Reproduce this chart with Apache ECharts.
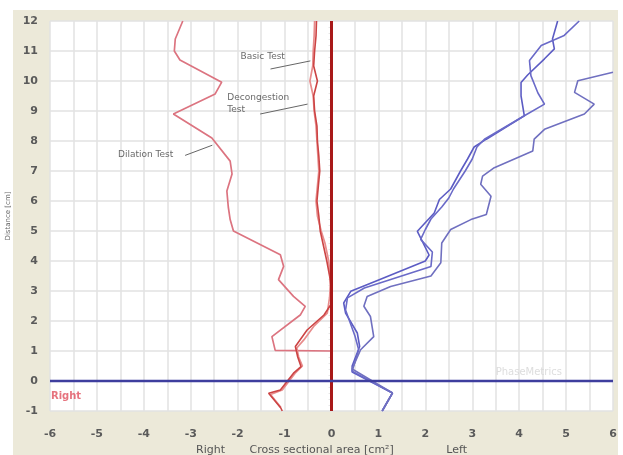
<!DOCTYPE html>
<html>
<head>
<meta charset="utf-8">
<script src="https://cdn.jsdelivr.net/npm/echarts@6/dist/echarts.min.js"></script>
<style>html,body{margin:0;padding:0;background:#fff;}#c{width:623px;height:455px;}</style>
</head>
<body>
<div id="c"></div>
<script>
// ---- data (x = cross sectional area [cm²], y = distance [cm]) ----
const xTicks = [-6,-5,-4,-3,-2,-1,0,1,2,3,4,5,6];
const yTicks = [-1,0,1,2,3,4,5,6,7,8,9,10,11,12];

const dilationTest = [[-3.17,12],[-3.33,11.4],[-3.35,11.0],[-3.23,10.7],[-2.34,9.96],[-2.48,9.57],[-3.37,8.9],[-2.55,8.1],[-2.16,7.33],[-2.12,6.9],[-2.23,6.33],[-2.2,5.8],[-2.16,5.38],[-2.09,5.0],[-1.09,4.21],[-1.02,3.82],[-1.13,3.38],[-0.81,2.82],[-0.56,2.49],[-0.66,2.21],[-1.27,1.48],[-1.2,1.02],[0,1.0]];
const basicTest = [[-0.32,12],[-0.33,11.5],[-0.36,11],[-0.38,10.5],[-0.30,10],[-0.38,9.5],[-0.36,9],[-0.31,8.5],[-0.3,8],[-0.27,7.5],[-0.25,7],[-0.28,6.5],[-0.31,6],[-0.27,5.5],[-0.24,5],[-0.17,4.5],[-0.1,4],[-0.04,3.5],[0,3],[0.01,2.6],[-0.16,2.2],[-0.52,1.7],[-0.77,1.15],[-0.72,0.8],[-0.65,0.48],[-0.81,0.26],[-1.09,-0.3],[-1.34,-0.41],[-1.08,-0.9],[-1.05,-1.0]];
const decongestionTest = [[-0.36,12],[-0.37,11.5],[-0.39,11],[-0.40,10.5],[-0.46,10],[-0.39,9.5],[-0.37,9],[-0.33,8.5],[-0.31,8],[-0.29,7.5],[-0.27,7],[-0.3,6.5],[-0.33,6],[-0.3,5.5],[-0.22,5],[-0.14,4.6],[-0.06,4],[-0.02,3.4],[-0.04,2.8],[-0.09,2.26],[-0.38,1.82],[-0.59,1.37],[-0.74,1.1],[-0.7,0.8],[-0.62,0.5],[-0.78,0.25],[-1.05,-0.3],[-1.3,-0.45],[-1.08,-0.88]];

const leftA = [[1.08,-1.0],[1.30,-0.4],[0.44,0.3],[0.44,0.5],[0.60,1.15],[0.55,1.6],[0.30,2.26],[0.26,2.6],[0.41,2.99],[0.9,3.3],[2.0,4.0],[2.08,4.2],[1.83,4.99],[2.19,5.6],[2.3,6.05],[2.54,6.4],[2.75,7.0],[2.9,7.4],[3.04,7.8],[3.3,8.06],[4.11,8.84],[4.04,9.5],[4.04,9.95],[4.18,10.2],[4.54,10.74],[4.75,11.07],[4.71,11.4],[4.82,12]];
const leftB = [[1.08,-1.0],[1.30,-0.4],[0.44,0.33],[0.58,1.04],[0.5,1.5],[0.30,2.37],[0.34,2.77],[0.7,3.1],[2.12,3.82],[2.15,4.3],[1.9,4.72],[2.0,5.05],[2.12,5.4],[2.35,5.8],[2.5,6.1],[2.6,6.4],[2.85,7.0],[3.0,7.4],[3.1,7.8],[3.26,8.06],[4.11,8.84],[4.54,9.23],[4.4,9.6],[4.25,10.18],[4.22,10.68],[4.47,11.18],[4.96,11.52],[5.28,12]];
const leftC = [[1.08,-1.0],[1.30,-0.4],[0.44,0.4],[0.62,1.04],[0.90,1.48],[0.83,2.15],[0.69,2.49],[0.76,2.82],[1.26,3.15],[2.12,3.5],[2.33,3.94],[2.35,4.6],[2.54,5.05],[2.97,5.38],[3.3,5.55],[3.40,6.16],[3.18,6.56],[3.22,6.83],[3.47,7.11],[4.29,7.67],[4.32,8.06],[4.54,8.39],[5.39,8.9],[5.60,9.23],[5.18,9.62],[5.25,10.01],[6.0,10.29]];

const zeroVertical = [[0,-1],[0,12]];
const zeroHorizontal = [[-6,0],[6,0]];

const annotationTexts = ['Basic Test','Decongestion\nTest','Dilation Test'];
const annotationAnchors = [[-1.94,10.8],[-2.22,9.23],[-4.55,7.56]];
const leaderLines = [[[-1.30,10.4],[-0.45,10.67]],[[-1.52,8.9],[-0.51,9.23]],[[-3.12,7.52],[-2.54,7.86]]];
const sideLabel = ['Right',[-5.98,-0.53]];
const watermark = ['PhaseMetrics',[3.5,0.27]];

// ---- chart ----
const chart = echarts.init(document.getElementById('c'), null, {renderer:'canvas'});
const FONT = 'DejaVu Sans';

function curve(data, color, width, z) {
  return {type:'line', data:data, symbol:'none', smooth:false, silent:true, z:z||3,
    lineStyle:{color:color, width:width}};
}

const series = [
  curve(dilationTest, '#dc7480', 1.7),
  curve(decongestionTest, '#e88c8c', 1.7),
  curve(basicTest, '#cc4444', 1.6),
  curve(leftA, '#5c5cc4', 1.6),
  curve(leftB, '#6a6ac8', 1.6),
  curve(leftC, '#7070c0', 1.6),
  curve(zeroVertical, '#a81818', 3, 4),
  curve(zeroHorizontal, '#3e3e9e', 2.5, 4)
];
leaderLines.forEach(l => series.push(curve(l, '#666', 1, 5)));
series.push({
  type:'scatter', symbolSize:0, silent:true, z:6,
  data: annotationTexts.map((t,i)=>({value:annotationAnchors[i], name:t})),
  label:{show:true, position:'inside', align:'left', verticalAlign:'middle',
    formatter:p=>p.name, color:'#444', fontFamily:FONT, fontSize:9, lineHeight:12}
});
series.push({
  type:'scatter', symbolSize:0, silent:true, z:6,
  data:[{value:sideLabel[1], name:sideLabel[0]}],
  label:{show:true, position:'inside', align:'left', verticalAlign:'middle',
    formatter:p=>p.name, color:'#e0505e', fontFamily:FONT, fontSize:10, fontWeight:'bold'}
});
series.push({
  type:'scatter', symbolSize:0, silent:true, z:2,
  data:[{value:watermark[1], name:watermark[0]}],
  label:{show:true, position:'inside', align:'left', verticalAlign:'middle',
    formatter:p=>p.name, color:'#d4d4d4', fontFamily:FONT, fontSize:10}
});

chart.setOption({
  animation:false,
  backgroundColor:'#ffffff',
  graphic:[{type:'rect', z:-10, shape:{x:13,y:10,width:605,height:445}, style:{fill:'#ece9d9'}}],
  grid:{left:50, right:10, top:21, bottom:44, outerBoundsMode:'none', containLabel:false,
    show:true, backgroundColor:'#ffffff', borderWidth:0, z:0},
  xAxis:{
    type:'value', min:xTicks[0], max:xTicks[xTicks.length-1], interval:1,
    name:'Right       Cross sectional area [cm²]               Left',
    nameLocation:'middle', nameGap:33,
    nameTextStyle:{color:'#555', fontFamily:FONT, fontSize:11},
    axisLine:{show:false}, axisTick:{show:false},
    axisLabel:{color:'#5a5a5a', fontFamily:FONT, fontSize:11, fontWeight:'bold', margin:18},
    splitLine:{show:true, lineStyle:{color:'#e2e2e2', width:1.5}},
    minorTick:{show:false, splitNumber:2},
    minorSplitLine:{show:true, lineStyle:{color:'#e2e2e2', width:1.5}}
  },
  yAxis:{
    type:'value', min:yTicks[0], max:yTicks[yTicks.length-1], interval:1,
    name:'Distance [cm]', nameLocation:'middle', nameGap:34, nameRotate:90,
    nameTextStyle:{color:'#666', fontFamily:FONT, fontSize:7},
    axisLine:{show:false}, axisTick:{show:false},
    axisLabel:{color:'#5a5a5a', fontFamily:FONT, fontSize:11, fontWeight:'bold', margin:12},
    splitLine:{show:true, lineStyle:{color:'#e2e2e2', width:1.5}},
    minorTick:{show:true, splitNumber:5, length:3, lineStyle:{color:'#e6e6e6'}}
  },
  series:series
});
</script>
</body>
</html>
